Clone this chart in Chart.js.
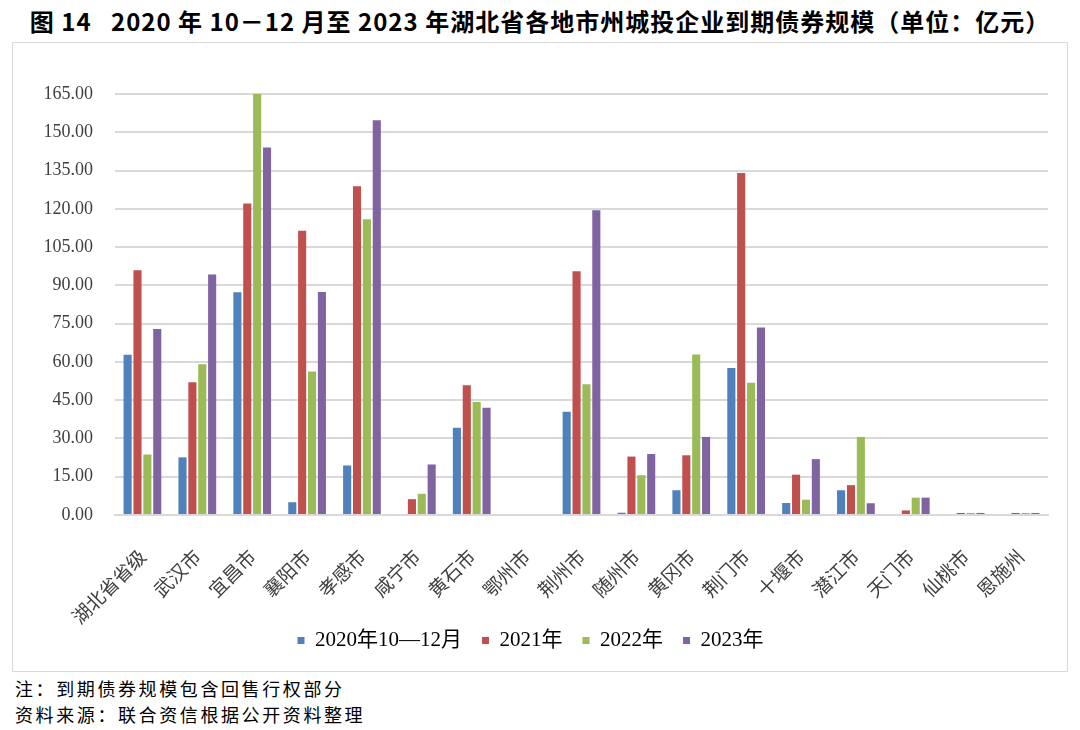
<!DOCTYPE html>
<html>
<head>
<meta charset="utf-8">
<script src="https://cdn.jsdelivr.net/npm/chart.js@4"></script>
<style>
  body { margin: 0; background: #fff; width: 1080px; height: 730px; position: relative; overflow: hidden; }
  #title { position: absolute; left: 0; top: 3px; width: 1080px; text-align: center; font-family: "Noto Sans CJK SC", sans-serif; font-weight: bold; font-size: 24px; letter-spacing: 1px; color: #000; }
  #box { position: absolute; left: 12px; top: 42px; width: 1054px; height: 628px; border: 1px solid #d9d9d9; }
  .note { position: absolute; left: 15px; font-family: "Noto Sans CJK SC", sans-serif; font-size: 18px; letter-spacing: 2.6px; color: #000; }
</style>
</head>
<body>
<div id="title">图 14&nbsp;&nbsp;&nbsp;2020 年 10－12 月至 2023 年湖北省各地市州城投企业到期债券规模（单位：亿元）</div>
<div id="box"><canvas id="myChart" width="1054" height="628"></canvas></div>
<div class="note" style="top:675px">注：到期债券规模包含回售行权部分</div>
<div class="note" style="top:701px">资料来源：联合资信根据公开资料整理</div>
<script>
const cities = ["湖北省省级", "武汉市", "宜昌市", "襄阳市", "孝感市", "咸宁市", "黄石市", "鄂州市", "荆州市",
  "随州市", "黄冈市", "荆门市", "十堰市", "潜江市", "天门市", "仙桃市", "恩施州"];
const seriesNames = ["2020年10—12月", "2021年", "2022年", "2023年"];
const y2020 = [62.8, 22.6, 87.3, 5.0, 19.4, 0, 34.2, 0, 40.5, 0.9, 9.7, 57.6, 4.7, 9.7, 0, 0, 0];
const y2021 = [95.9, 52.0, 122.1, 111.4, 128.8, 6.2, 50.9, 0, 95.5, 22.9, 23.4, 134.0, 15.8, 11.7, 1.8, 0.8, 0.8];
const y2022 = [23.7, 59.1, 165.0, 56.2, 115.9, 8.3, 44.3, 0, 51.2, 15.6, 62.9, 51.8, 6.0, 30.6, 6.8, 0.8, 0.8];
const y2023 = [72.9, 94.3, 144.0, 87.4, 154.7, 19.8, 42.0, 0, 119.4, 23.9, 30.6, 73.5, 21.9, 4.6, 6.8, 0.8, 0.8];
const colors = ["#4f81bd", "#c0504d", "#9bbb59", "#8064a2"];

const seriesData = [y2020, y2021, y2022, y2023];
const serif = "'Liberation Serif', 'Noto Sans CJK SC', serif";

const data = {
  labels: cities,
  datasets: seriesNames.map((name, i) => ({
    label: name,
    data: seriesData[i],
    backgroundColor: colors[i],
    borderWidth: 0,
    categoryPercentage: 0.72,
    barPercentage: 0.82
  }))
};

// the rotated city names run a bit into the legend's top padding,
// so let the x labels draw past the scale box instead of being clipped
const unclipLabels = {
  id: 'unclipLabels',
  afterLayout(chart) {
    chart.scales.x.bottom += 20;
  }
};

const config = {
  type: 'bar',
  data,
  plugins: [unclipLabels],
  options: {
    responsive: false,
    animation: false,
    layout: { padding: { top: 51, right: 19, left: 0, bottom: 10 } },
    plugins: {
      tooltip: { enabled: false },
      legend: {
        position: 'bottom',
        labels: {
          boxWidth: 7,
          boxHeight: 7,
          padding: 20,
          color: '#000',
          font: { family: serif, size: 21 }
        }
      }
    },
    scales: {
      x: {
        grid: { display: false },
        border: { color: '#d9d9d9', width: 2 },
        ticks: {
          minRotation: 45,
          maxRotation: 45,
          padding: 22,
          color: '#404040',
          font: { family: "'Noto Sans CJK SC', sans-serif", size: 19 }
        },
        afterFit: (scale) => { scale.height = 95; }
      },
      y: {
        min: 0,
        max: 165,
        border: { display: false },
        grid: { color: '#d9d9d9', lineWidth: 2, drawTicks: false },
        ticks: {
          stepSize: 15,
          padding: 22,
          color: '#404040',
          font: { family: serif, size: 18 },
          callback: (v) => v.toFixed(2)
        },
        afterFit: (scale) => { scale.width = 102; }
      }
    }
  }
};

var myChart = new Chart(document.getElementById('myChart'), config);
</script>
</body>
</html>
